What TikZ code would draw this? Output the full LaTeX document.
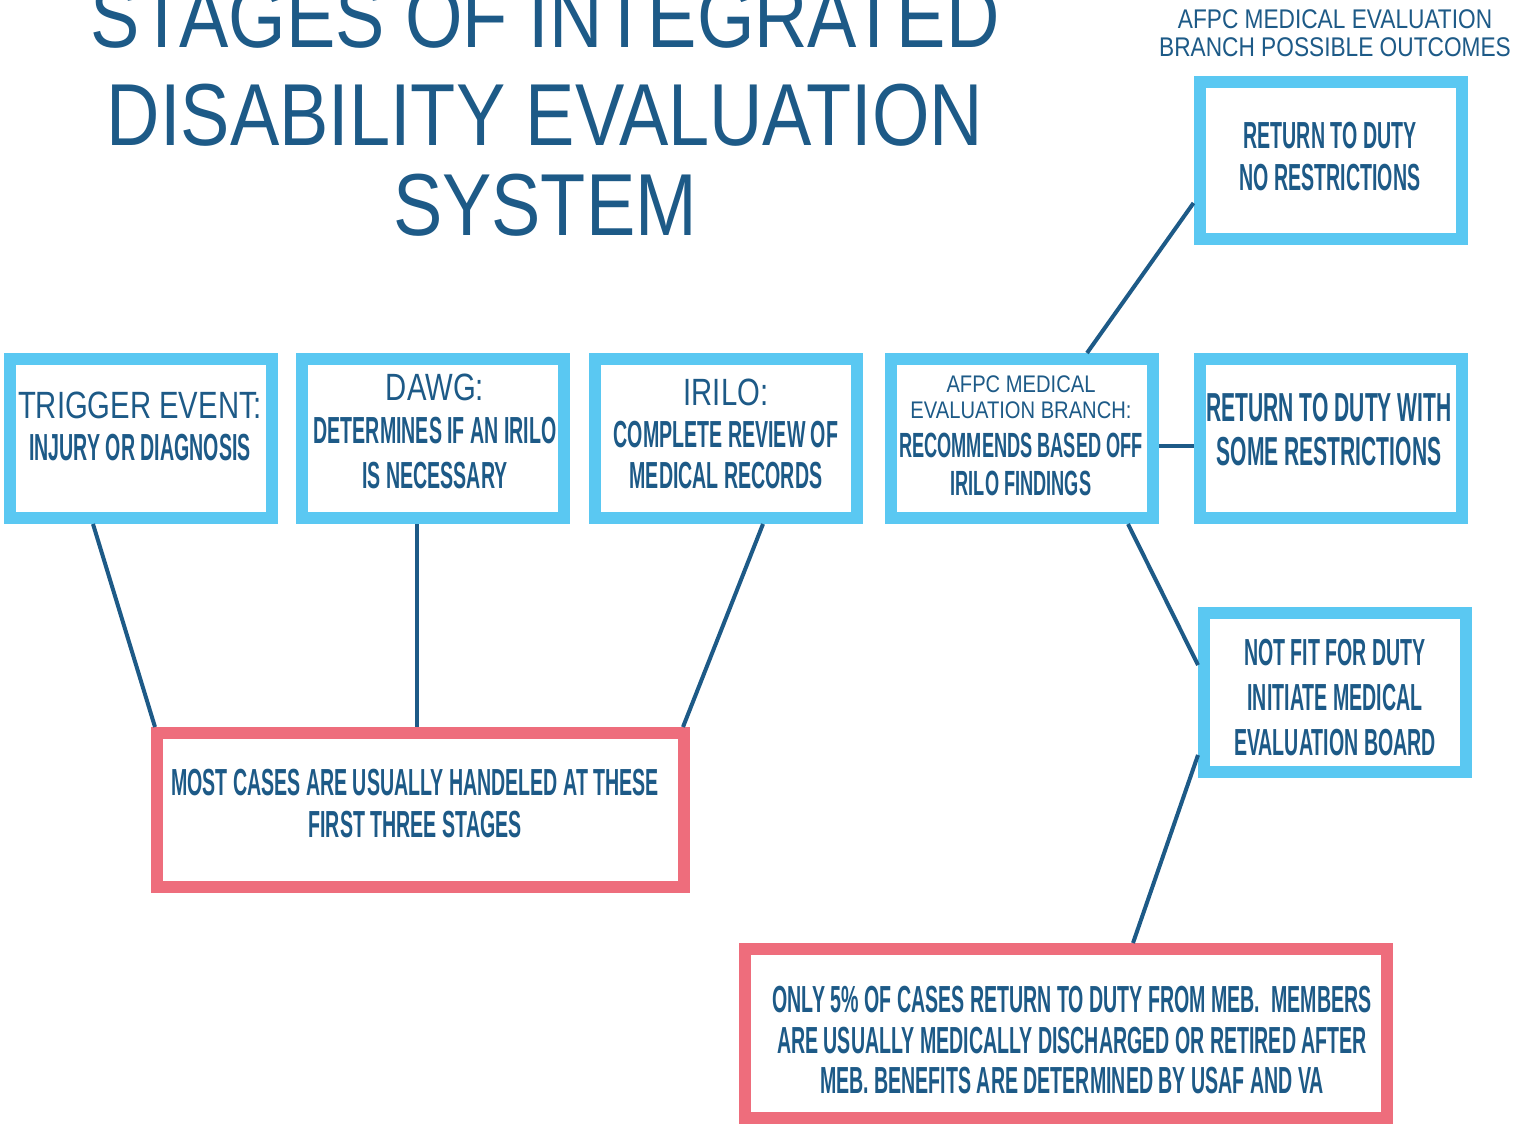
\documentclass[tikz,border=0pt]{standalone}
\usepackage{fontspec}
\newfontfamily\titlef[FakeStretch=0.84]{Liberation Sans}
\newfontfamily\lightf[FakeStretch=0.77]{Liberation Sans}
\newfontfamily\condf[FakeStretch=0.52]{Liberation Sans}
\definecolor{lb}{HTML}{5AC8F2}
\definecolor{rd}{HTML}{EE6D7C}
\definecolor{db}{HTML}{1D5A87}
\tikzset{
  bluebox/.style={draw=lb, line width=12pt, fill=white, inner sep=0pt, minimum width=262pt, minimum height=159pt},
  redbox/.style={draw=rd, line width=12pt, fill=white, inner sep=0pt},
  conn/.style={draw=db, line width=4pt},
  bt/.style={font=\condf\bfseries\fontsize{37.7}{40}\selectfont, text=db, anchor=base, inner sep=0pt},
  bts/.style={font=\condf\bfseries\fontsize{35}{38}\selectfont, text=db, anchor=base, inner sep=0pt},
  btl/.style={font=\condf\bfseries\fontsize{40.5}{43}\selectfont, text=db, anchor=base, inner sep=0pt},
  lt/.style={font=\lightf\fontsize{38}{40}\selectfont, text=db, anchor=base, inner sep=0pt},
  st/.style={font=\titlef\fontsize{24}{26}\selectfont, text=db, anchor=base, inner sep=0pt},
  tt/.style={font=\titlef\fontsize{88}{90}\selectfont, text=db, anchor=base, inner sep=0pt},
  ot/.style={font=\titlef\fontsize{27}{29}\selectfont, text=db, anchor=base, inner sep=0pt}
}
\begin{document}
\begin{tikzpicture}[x=1pt,y=-1pt]
\path[use as bounding box, fill=white] (0,0) rectangle (1516,1130);
\clip (0,0) rectangle (1516,1130);

% title
\node[tt] (title1) at (545,47) {STAGES OF INTEGRATED};
\node[tt] (title2) at (545,145) {DISABILITY EVALUATION};
\node[tt] (title3) at (545,235) {SYSTEM};
\node[ot] (out1) at (1335,28) {AFPC MEDICAL EVALUATION};
\node[ot] (out2) at (1335,56) {BRANCH POSSIBLE OUTCOMES};

% boxes
\node[bluebox] (trig) at (140.5,438.5) {};
\node[bluebox] (dawg) at (433,438.5) {};
\node[bluebox] (irilo) at (726,438.5) {};
\node[bluebox] (afpc) at (1022,438.5) {};
\node[bluebox, minimum height=157pt] (rtd1) at (1330.5,160.5) {};
\node[bluebox] (rtd2) at (1330.5,438.5) {};
\node[bluebox] (nfit) at (1335,692.5) {};
\node[redbox, minimum width=527pt, minimum height=154pt] (most) at (420.5,810) {};
\node[redbox, minimum width=642pt, minimum height=169pt] (only) at (1066,1033.5) {};

% connectors
\draw[conn] ([xshift=-47.5pt]trig.south) -- ([xshift=-265.5pt]most.north);
\draw[conn] ([xshift=-16pt]dawg.south) -- ([xshift=-3.5pt]most.north);
\draw[conn] ([xshift=37pt]irilo.south) -- ([xshift=262.5pt]most.north);
\draw[conn] ([xshift=65pt]afpc.north) -- ([yshift=-42.5pt]rtd1.west);
\draw[conn] ([yshift=-7.5pt]afpc.east) -- ([yshift=-7.5pt]rtd2.west);
\draw[conn] ([xshift=106pt]afpc.south) -- ([yshift=27.5pt]nfit.west);
\draw[conn] ([yshift=-62.5pt]nfit.west) -- ([xshift=67pt]only.north);

% texts
\node[lt] (trig1) at (140,418) {TRIGGER EVENT:};
\node[bt] (trig2) at (140,460) {INJURY OR DIAGNOSIS};

\node[lt] (dawg1) at (435,400) {DAWG:};
\node[bt] (dawg2) at (435,443) {DETERMINES IF AN IRILO};
\node[bt] (dawg3) at (435,488) {IS NECESSARY};

\node[lt] (irilo1) at (726,405) {IRILO:};
\node[bt] (irilo2) at (726,447) {COMPLETE REVIEW OF};
\node[bt] (irilo3) at (726,488) {MEDICAL RECORDS};

\node[st] (afpc1) at (1021,392) {AFPC MEDICAL};
\node[st] (afpc2) at (1021,418) {EVALUATION BRANCH:};
\node[bts] (afpc3) at (1021,457) {RECOMMENDS BASED OFF};
\node[bts] (afpc4) at (1021,495) {IRILO FINDINGS};

\node[bt] (rtd1a) at (1330,148) {RETURN TO DUTY};
\node[bt] (rtd1b) at (1330,190) {NO RESTRICTIONS};

\node[btl] (rtd2a) at (1329,421) {RETURN TO DUTY WITH};
\node[btl] (rtd2b) at (1329,465) {SOME RESTRICTIONS};

\node[bt] (nfit1) at (1335,665) {NOT FIT FOR DUTY};
\node[bt] (nfit2) at (1335,710) {INITIATE MEDICAL};
\node[bt] (nfit3) at (1335,755) {EVALUATION BOARD};

\node[bt] (most1) at (415,795) {MOST CASES ARE USUALLY HANDELED AT THESE};
\node[bt] (most2) at (415,837) {FIRST THREE STAGES};

\node[bt] (only1) at (1072,1012) {ONLY 5\% OF CASES RETURN TO DUTY FROM MEB.\ \ MEMBERS};
\node[bt] (only2) at (1072,1053) {ARE USUALLY MEDICALLY DISCHARGED OR RETIRED AFTER};
\node[bt] (only3) at (1072,1093) {MEB. BENEFITS ARE DETERMINED BY USAF AND VA};
\end{tikzpicture}
\end{document}
